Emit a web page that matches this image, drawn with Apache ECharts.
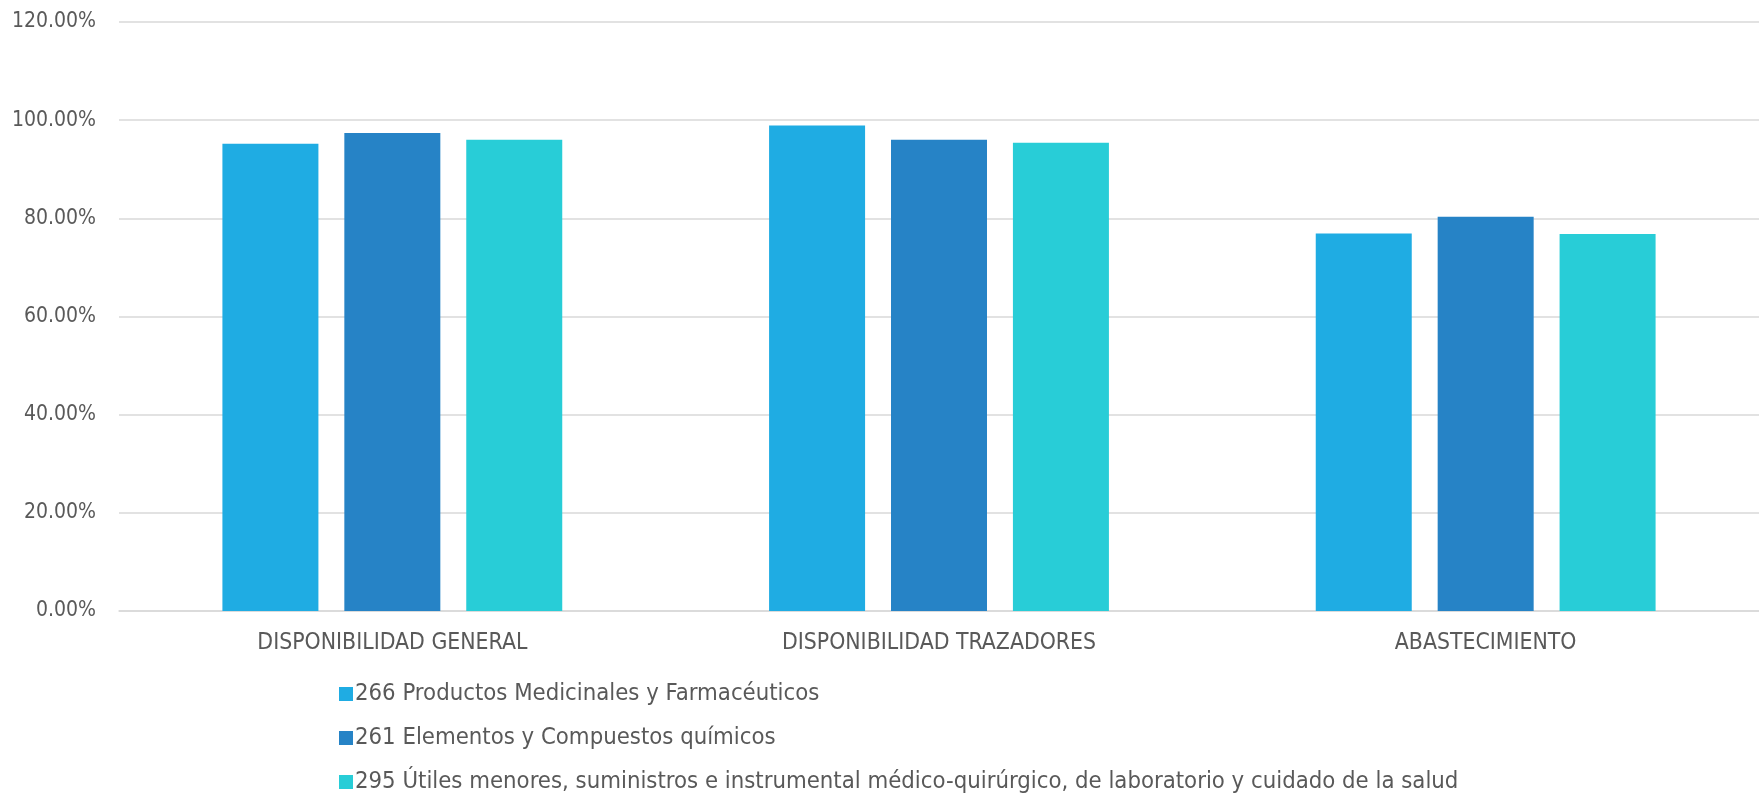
<!DOCTYPE html>
<html>
<head>
<meta charset="utf-8">
<script src="https://cdn.jsdelivr.net/npm/echarts@6/dist/echarts.min.js"></script>
<style>
html,body{margin:0;padding:0;background:#fff;overflow:hidden;}
#chart{width:1759px;height:797px;}
</style>
</head>
<body>
<div id="chart"></div>
<script>
const categories = ['DISPONIBILIDAD GENERAL', 'DISPONIBILIDAD TRAZADORES', 'ABASTECIMIENTO'];
const seriesNames = [
  '266 Productos Medicinales y Farmacéuticos',
  '261 Elementos y Compuestos químicos',
  '295 Útiles menores, suministros e instrumental médico-quirúrgico, de laboratorio y cuidado de la salud'
];
const values266 = [95.2, 98.9, 76.9];
const values261 = [97.4, 96.0, 80.3];
const values295 = [96.0, 95.4, 76.8];
const yTicks = [0, 20, 40, 60, 80, 100, 120];
const colors = ['#1FACE3', '#2683C6', '#28CDD7'];

const FONT = "'DejaVu Sans Condensed', 'DejaVu Sans', sans-serif";
const chart = echarts.init(document.getElementById('chart'), null, {renderer: 'canvas'});
const allValues = [values266, values261, values295];
chart.setOption({
  animation: false,
  color: colors,
  grid: {left: 119, right: -11, top: 22, bottom: 186, containLabel: false},
  legend: {
    orient: 'vertical',
    left: 334,
    top: 677,
    height: 200,
    itemWidth: 14,
    itemHeight: 14,
    itemGap: 20,
    icon: 'rect',
    data: seriesNames,
    textStyle: {fontFamily: FONT, fontSize: 23.7, color: '#595959', lineHeight: 24, padding: [0, 0, 0, -3]}
  },
  xAxis: {
    type: 'category',
    data: categories,
    axisLine: {lineStyle: {color: '#d9d9d9', width: 1.5}},
    axisTick: {show: false},
    axisLabel: {fontFamily: FONT, fontSize: 22.8, color: '#595959', margin: 21}
  },
  yAxis: {
    type: 'value',
    min: yTicks[0],
    max: yTicks[yTicks.length - 1],
    interval: 20,
    axisLine: {show: false},
    axisTick: {show: false},
    splitLine: {lineStyle: {color: '#d9d9d9', width: 1.5}},
    axisLabel: {fontFamily: FONT, fontSize: 21, color: '#595959', margin: 23,
      formatter: v => v.toFixed(2) + '%'}
  },
  series: seriesNames.map((n, i) => ({
    name: n,
    type: 'bar',
    data: allValues[i],
    barWidth: 96,
    barGap: '27%',
    itemStyle: {color: colors[i]}
  }))
});
</script>
</body>
</html>
